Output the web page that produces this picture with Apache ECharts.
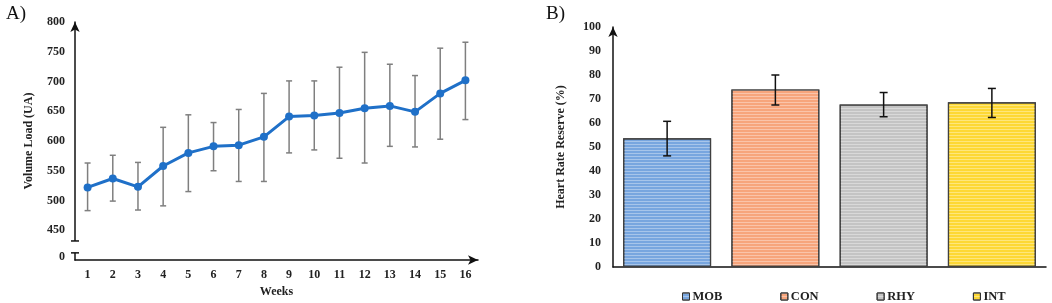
<!doctype html>
<html>
<head>
<meta charset="UTF-8">
<title>Volume load and heart rate reserve</title>
<script src="https://cdn.jsdelivr.net/npm/echarts@6/dist/echarts.min.js"></script>
<style>
  html, body { margin: 0; padding: 0; background: #fff; }
  #main { width: 1052px; height: 303px; }
</style>
</head>
<body>
<div id="main"></div>
<script>
// panel A - weekly volume load
var weeks = ['1','2','3','4','5','6','7','8','9','10','11','12','13','14','15','16'];
var loadMean = [522, 537, 523, 558, 580, 591, 593, 607, 641, 643, 647, 655, 659, 649, 680, 702];
var loadLow  = [483, 499, 484, 491, 515, 550, 532, 532, 580, 585, 571, 563, 591, 590, 603, 636];
var loadHigh = [563, 576, 564, 623, 644, 631, 653, 680, 701, 701, 724, 749, 729, 710, 756, 766];
var loadTicks = [400, 450, 500, 550, 600, 650, 700, 750, 800];

// panel B - heart rate reserve per group
var groups = ['MOB', 'CON', 'RHY', 'INT'];
var hrrMean = [53.6, 74.0, 67.7, 68.6];
var hrrLow  = [46.3, 67.5, 62.6, 62.3];
var hrrHigh = [60.7, 80.0, 72.7, 74.4];
var groupColors = ['#78a6df', '#f7a57c', '#c4c4c4', '#fdd835'];

var serif = '"Liberation Serif", "Times New Roman", serif';
var chart = echarts.init(document.getElementById('main'));

function errBar(capHalf, color) {
  return function (params, api) {
    var top = api.coord([api.value(0), api.value(2)]);
    var bot = api.coord([api.value(0), api.value(1)]);
    var st = { stroke: color, lineWidth: 1.5 };
    return {
      type: 'group',
      children: [
        { type: 'line', shape: { x1: top[0], y1: top[1], x2: bot[0], y2: bot[1] }, style: st },
        { type: 'line', shape: { x1: top[0] - capHalf, y1: top[1], x2: top[0] + capHalf, y2: top[1] }, style: st },
        { type: 'line', shape: { x1: bot[0] - capHalf, y1: bot[1], x2: bot[0] + capHalf, y2: bot[1] }, style: st }
      ]
    };
  };
}

var loadErr = weeks.map(function (w, i) { return [i, loadLow[i], loadHigh[i]]; });
var hrrErr = groups.map(function (g, i) { return [i, hrrLow[i], hrrHigh[i]]; });

var barSeries = groups.map(function (g, i) {
  return {
    name: g,
    type: 'bar',
    xAxisIndex: 1,
    yAxisIndex: 1,
    barWidth: 88,
    barGap: '-100%',
    data: groups.map(function (gg, j) { return j === i ? hrrMean[i] : '-'; }),
    itemStyle: {
      color: groupColors[i],
      borderColor: '#404040',
      borderWidth: 1.2,
      decal: {
        symbol: 'rect',
        symbolSize: 1,
        dashArrayX: [1, 0],
        dashArrayY: [1, 2],
        rotation: 0,
        color: 'rgba(255,255,255,0.35)'
      }
    }
  };
});

var option = {
  animation: false,
  textStyle: { fontFamily: serif },
  title: [
    { text: 'A)', left: 1, top: 0, textStyle: { fontFamily: serif, fontWeight: 'normal', fontSize: 19, color: '#111' } },
    { text: 'B)', left: 541, top: 0, textStyle: { fontFamily: serif, fontWeight: 'normal', fontSize: 19, color: '#111' } }
  ],
  legend: {
    data: groups,
    left: 677,
    top: 285,
    icon: 'rect',
    itemWidth: 7,
    itemHeight: 7,
    itemGap: 58,
    itemStyle: { borderColor: '#333', borderWidth: 1 },
    textStyle: { fontFamily: serif, fontWeight: 'bold', fontSize: 12.5, color: '#222', padding: [0, 0, 0, -2] }
  },
  grid: [
    { left: 75, right: 574, top: 22, bottom: 39 },
    { left: 613, right: 6, top: 27, bottom: 36 }
  ],
  xAxis: [
    {
      type: 'category', gridIndex: 0, data: weeks,
      name: 'Weeks', nameLocation: 'middle', nameGap: 26,
      nameTextStyle: { fontFamily: serif, fontWeight: 'bold', fontSize: 12, color: '#222' },
      axisLine: { lineStyle: { color: '#111', width: 1.5 }, symbol: ['none', 'arrow'], symbolSize: [7, 10] },
      axisTick: { show: false },
      axisLabel: { fontFamily: serif, fontWeight: 'bold', fontSize: 12, color: '#222', margin: 9 }
    },
    {
      type: 'category', gridIndex: 1, data: groups,
      axisLine: { lineStyle: { color: '#111', width: 1.5 } },
      axisTick: { show: false },
      axisLabel: { show: false }
    }
  ],
  yAxis: [
    {
      type: 'value', gridIndex: 0, min: 400, max: 800, interval: 50,
      name: 'Volume Load (UA)', nameLocation: 'middle', nameGap: 40,
      nameTextStyle: { fontFamily: serif, fontWeight: 'bold', fontSize: 12, color: '#222' },
      axisLine: { show: true, lineStyle: { color: '#111', width: 1.5 }, symbol: ['none', 'arrow'], symbolSize: [7, 10] },
      axisTick: { show: false },
      splitLine: { show: false },
      axisLabel: {
        fontFamily: serif, fontWeight: 'bold', fontSize: 12, color: '#222', margin: 10,
        formatter: function (v) { return v === loadTicks[0] ? '{z|0}' : String(v); },
        rich: { z: { fontFamily: serif, fontWeight: 'bold', fontSize: 12, color: '#222', padding: [0, 0, 6, 0] } }
      }
    },
    {
      type: 'value', gridIndex: 1, min: 0, max: 100, interval: 10,
      name: 'Heart Rate Reserve (%)', nameLocation: 'middle', nameGap: 46,
      nameTextStyle: { fontFamily: serif, fontWeight: 'bold', fontSize: 12, color: '#222' },
      axisLine: { show: true, lineStyle: { color: '#111', width: 1.5 }, symbol: ['none', 'arrow'], symbolSize: [7, 10] },
      axisTick: { show: false },
      splitLine: { show: false },
      axisLabel: { fontFamily: serif, fontWeight: 'bold', fontSize: 12, color: '#222', margin: 12 }
    }
  ],
  series: [
    {
      type: 'custom', name: 'load sd', xAxisIndex: 0, yAxisIndex: 0,
      renderItem: errBar(3, '#7f7f7f'), data: loadErr, z: 2
    },
    {
      type: 'line', name: 'Volume load', xAxisIndex: 0, yAxisIndex: 0,
      data: loadMean, symbol: 'circle', symbolSize: 8,
      lineStyle: { color: '#1f70c8', width: 3 },
      itemStyle: { color: '#1f70c8' }, z: 3
    }
  ].concat(barSeries).concat([
    {
      type: 'custom', name: 'hrr sd', xAxisIndex: 1, yAxisIndex: 1,
      renderItem: errBar(4, '#111'), data: hrrErr, z: 5
    }
  ])
};

chart.setOption(option);

// axis break mark on the volume axis (between the 0 baseline and 450)
var xA = chart.getModel().getComponent('grid', 0).coordinateSystem.getRect().x;
var yHi = chart.convertToPixel({ yAxisIndex: 0 }, 432);
var yLo = chart.convertToPixel({ yAxisIndex: 0 }, 412);
chart.setOption({
  graphic: [
    { type: 'rect', shape: { x: xA - 3, y: yHi, width: 6, height: yLo - yHi }, style: { fill: '#fff' }, z: 100 },
    { type: 'line', shape: { x1: xA - 4, y1: yHi, x2: xA + 4, y2: yHi }, style: { stroke: '#111', lineWidth: 1.5 }, z: 101 },
    { type: 'line', shape: { x1: xA - 4, y1: yLo, x2: xA + 4, y2: yLo }, style: { stroke: '#111', lineWidth: 1.5 }, z: 101 }
  ]
});
</script>
</body>
</html>
